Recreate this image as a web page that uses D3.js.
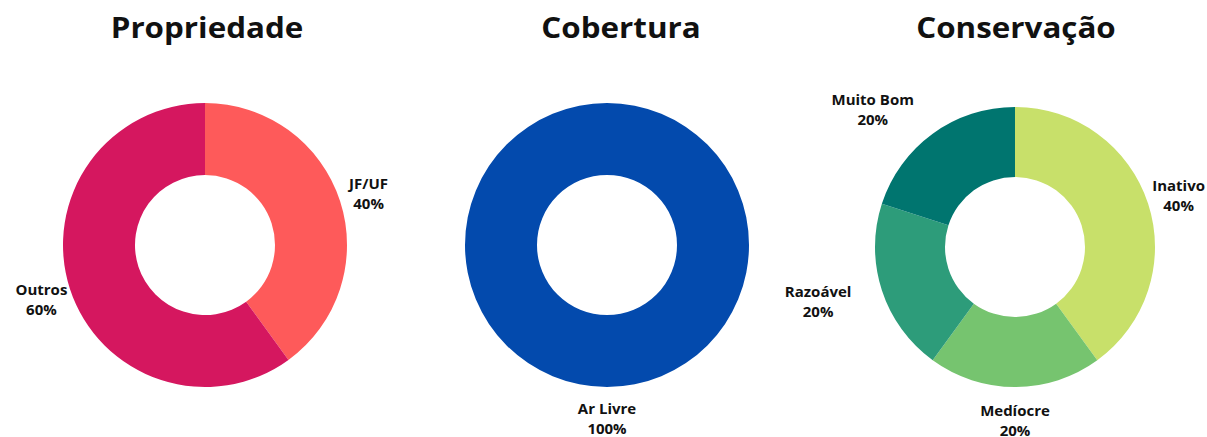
<!DOCTYPE html>
<html>
<head>
<meta charset="utf-8">
<script src="https://cdn.jsdelivr.net/npm/d3@7"></script>
<style>
  html, body { margin: 0; padding: 0; background: #ffffff; }
  svg { display: block; }
  text { font-family: "Open Sans", "Noto Sans", sans-serif; fill: #111; }
</style>
</head>
<body>
<svg id="chart" width="1207" height="437"></svg>
<script>
// Donut chart data: one small set of arrays per chart
const propriedadeCategories = ["JF/UF", "Outros"];
const propriedadeValues = [40, 60];

const coberturaCategories = ["Ar Livre"];
const coberturaValues = [100];

const conservacaoCategories = ["Inativo", "Medíocre", "Razoável", "Muito Bom"];
const conservacaoValues = [40, 20, 20, 20];

const chartTitles = ["Propriedade", "Cobertura", "Conservação"];

// Layout and styling of the three donuts
const charts = [
  { title: chartTitles[0], categories: propriedadeCategories, values: propriedadeValues,
    colors: ["#fe5a5a", "#d5175f"], cx: 205, cy: 245, r: 142, titleX: 207, leftAnchor: "middle" },
  { title: chartTitles[1], categories: coberturaCategories, values: coberturaValues,
    colors: ["#034aad"], cx: 607, cy: 245, r: 142, titleX: 621, leftAnchor: "middle" },
  { title: chartTitles[2], categories: conservacaoCategories, values: conservacaoValues,
    colors: ["#c8e06a", "#76c46f", "#2d9c7a", "#00756f"], cx: 1015, cy: 247, r: 140, titleX: 1016, leftAnchor: "end" }
];

const svg = d3.select("#chart");
svg.append("rect").attr("width", 1207).attr("height", 437).attr("fill", "#ffffff");

const innerRadius = 70;
const labelRadius = 172;
const lineHeight = 20;
const titleStretch = 1.12;

charts.forEach(c => {
  const total = d3.sum(c.values);
  const pie = d3.pie().sort(null).value(d => d)(c.values);
  const arc = d3.arc().innerRadius(innerRadius).outerRadius(c.r);
  const color = d3.scaleOrdinal().domain(c.categories).range(c.colors);

  // chart title, set slightly wide
  svg.append("text")
    .attr("transform", `translate(${c.titleX},38) scale(${titleStretch},1)`)
    .attr("text-anchor", "middle")
    .style("font-size", "28px")
    .style("font-weight", "700")
    .text(c.title);

  const g = svg.append("g").attr("transform", `translate(${c.cx},${c.cy})`);

  g.selectAll("path")
    .data(pie)
    .join("path")
    .attr("d", arc)
    .attr("fill", (d, i) => color(c.categories[i]));

  const labelArc = d3.arc().innerRadius(labelRadius).outerRadius(labelRadius);

  pie.forEach((d, i) => {
    const [x, y] = labelArc.centroid(d);
    const mid = (d.startAngle + d.endAngle) / 2;
    const onLeft = Math.sin(mid) < -0.3;
    const anchor = onLeft ? c.leftAnchor : "middle";
    const t = g.append("text")
      .attr("text-anchor", anchor)
      .style("font-size", "15px")
      .style("font-weight", "700");
    t.append("tspan").attr("x", x).attr("y", y - 3).text(c.categories[i]);
    const pct = t.append("tspan").attr("y", y - 3 + lineHeight)
      .text(Math.round(c.values[i] / total * 100) + "%");
    if (anchor === "end") {
      // keep the percentage centred under its category name
      const w = t.select("tspan").node().getComputedTextLength();
      pct.attr("x", x - w / 2).attr("text-anchor", "middle");
    } else {
      pct.attr("x", x);
    }
  });
});
</script>
</body>
</html>
